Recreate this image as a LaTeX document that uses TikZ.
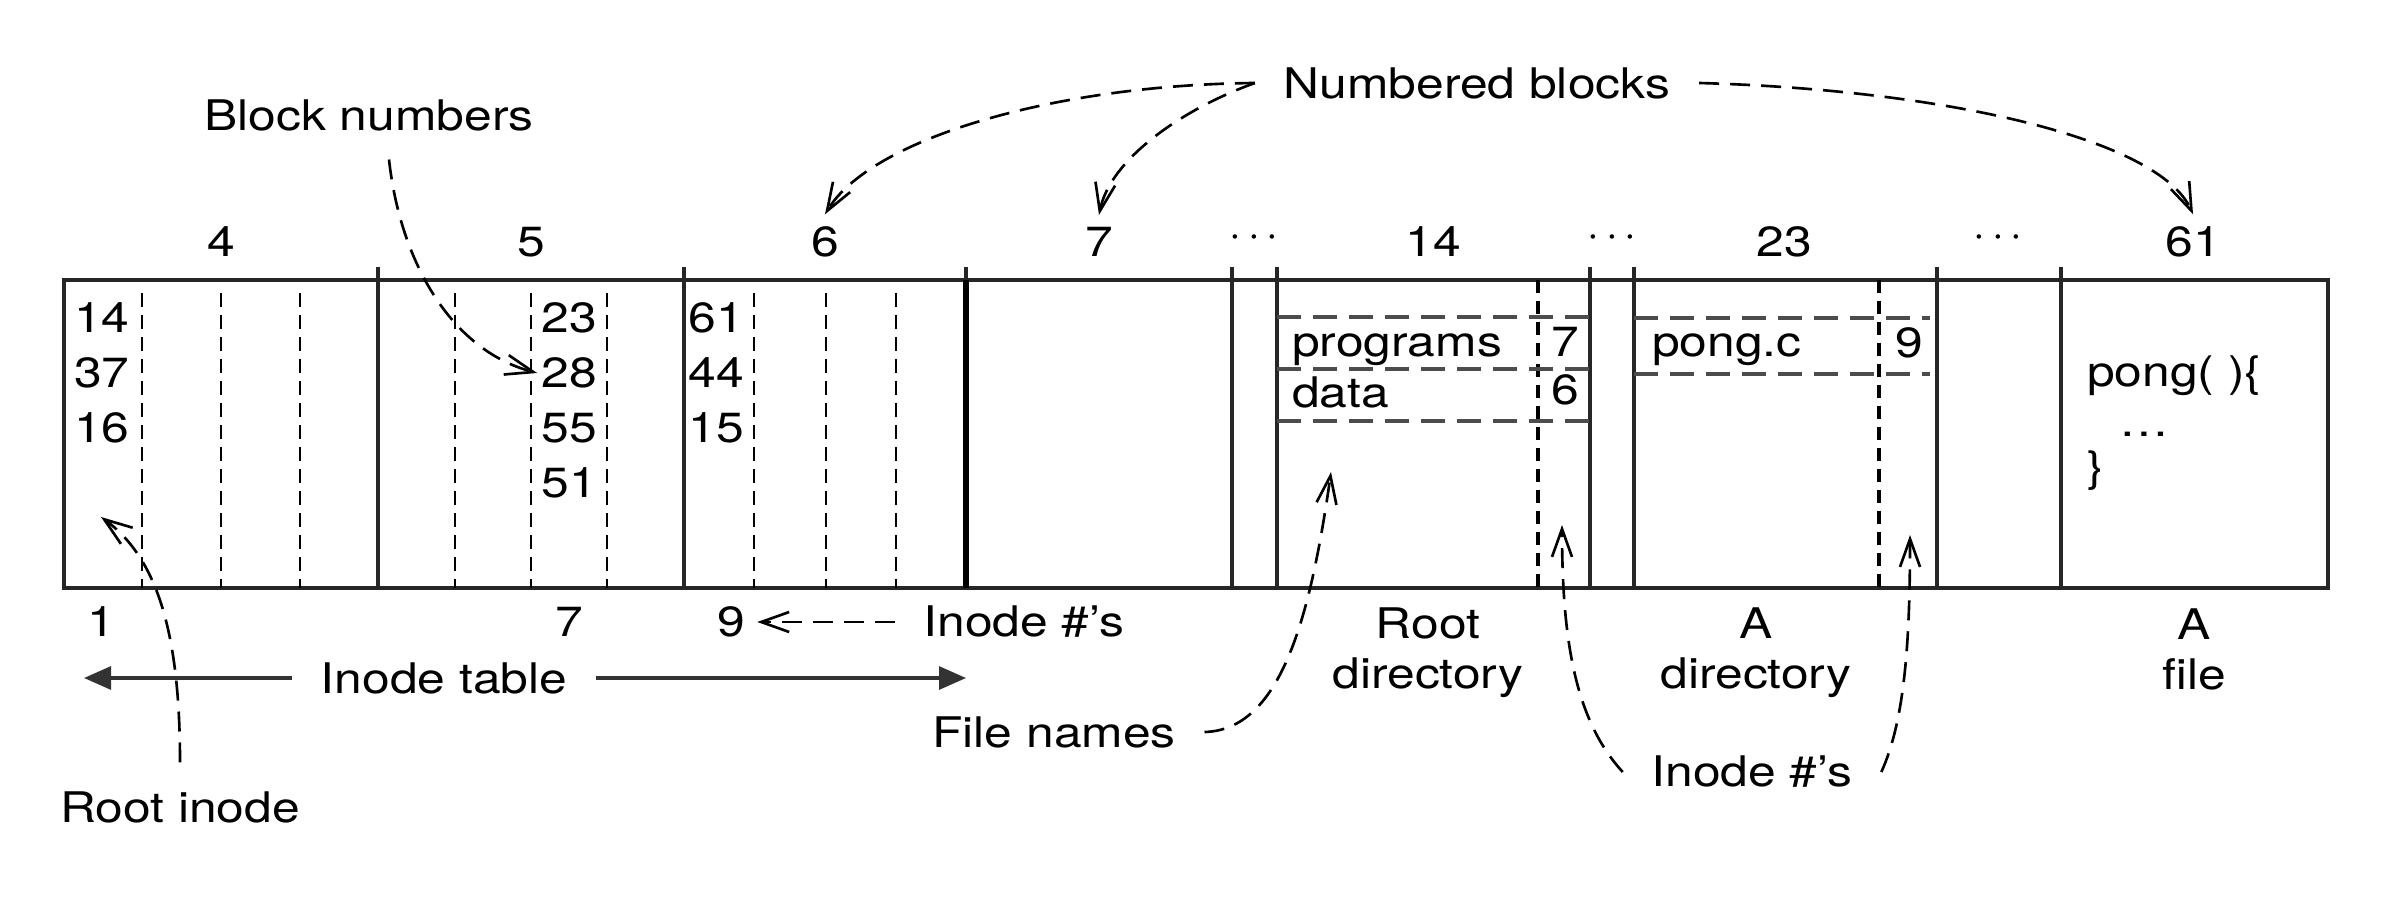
\documentclass[tikz,border=0pt]{standalone}
\usepackage{fontspec}
\setmainfont[FakeStretch=1.18]{TeX Gyre Heros}
\usetikzlibrary{positioning,arrows.meta}

\tikzset{
  lbl/.style={inner sep=8pt},
  num/.style={inner sep=1pt},
  wall/.style={line width=0.9pt, draw=black!85},
  slot/.style={line width=0.7pt, dash pattern=on 1.4mm off 0.8mm},
  dirsep/.style={line width=1.3pt, dash pattern=on 1.3mm off 0.8mm},
  entry/.style={line width=1pt, draw=black!70, dash pattern=on 2.4mm off 1.2mm},
  ptr/.style={-{Straight Barb[length=2.8mm,width=2mm]}, line width=0.75pt, dash pattern=on 2mm off 1.1mm},
  span/.style={-{Triangle[length=2.7mm,width=2.3mm]}, line width=0.9pt, draw=black!80},
}

\begin{document}
\begin{tikzpicture}[x=0.1mm, y=-0.1mm, node distance=5.5mm, font=\fontsize{12}{14.2}\selectfont]
  \useasboundingbox (0,0) rectangle (2392,918);

  % Disk blocks
  \draw[wall] (64,280) rectangle (2328,588);
  \foreach \x in {378,684,966,1232,1277,1590,1634,1937,2061}
    \draw[wall] (\x,267) -- (\x,588);
  \draw[line width=1.7pt] (966,280) -- (966,588);
  \foreach \x in {142,221,300,455,531,607,754,826,896}
    \draw[slot] (\x,293) -- (\x,588);
  \draw[dirsep] (1538,280) -- (1538,588);
  \draw[dirsep] (1879,280) -- (1879,588);
  \foreach \y in {317,369,421}
    \draw[entry] (1277,\y) -- (1590,\y);
  \foreach \y in {318,374}
    \draw[entry] (1634,\y) -- (1930,\y);

  % Nodes
  \node (b4) at (221,242) {4};
  \node (b5) at (531,242) {5};
  \node (b6) at (825,242) {6};
  \node (b7) at (1099,242) {7};
  \node (d1) at (1254,238) {$\cdots$};
  \node (b14) at (1433,242) {14};
  \node (d2) at (1612,238) {$\cdots$};
  \node (b23) at (1784,242) {23};
  \node (d3) at (1998,238) {$\cdots$};
  \node (b61) at (2193,242) {61};
  \node (blocknums) [lbl] at (369,115) {Block numbers};
  \node (numbered) [lbl] at (1477,83) {Numbered blocks};

  \node (n14) [num] at (102,318) {14};
  \node (n37) [num, below of=n14] {37};
  \node (n16) [num, below of=n37] {16};
  \node (n23) [num] at (569,318) {23};
  \node (n28) [num, below of=n23] {28};
  \node (n55) [num, below of=n28] {55};
  \node (n51) [num, below of=n55] {51};
  \node (n61) [num] at (716,318) {61};
  \node (n44) [num, below of=n61] {44};
  \node (n15) [num, below of=n44] {15};

  \node (progs) [num, anchor=base west] at (1288,357) {programs};
  \node (data) [num, anchor=base west] at (1288,408) {data};
  \node (ino7) [num, anchor=base] at (1565,357) {7};
  \node (ino6) [num, anchor=base] at (1565,405) {6};
  \node (pongc) [num, anchor=base west] at (1648,357) {pong.c};
  \node (ino9) [num, anchor=base] at (1909,358) {9};
  \node (code1) [num, anchor=base west] at (2083,387) {pong( )\{};
  \node (code2) [num, anchor=base west] at (2115,437) {\ldots};
  \node (code3) [num, anchor=base west] at (2083,482) {\}};

  \node (i1) at (101,622) {1};
  \node (i7) at (569,622) {7};
  \node (i9) at (731,622) {9};
  \node (inodes) [lbl] at (1024,622) {Inode \#'s};
  \node (itable) [lbl] at (444,678) {Inode table};
  \node (fnames) [lbl] at (1054,732) {File names};
  \node (rootinode) [lbl] at (180,807) {Root inode};
  \node (rootdir) [align=center] at (1428,653) {Root\\directory};
  \node (adir) [align=center] at (1756,653) {A\\directory};
  \node (afile) [align=center] at (2194,649) {A\\file};
  \node (dirinodes) [lbl] at (1752,772) {Inode \#'s};

  \coordinate (itleft) at (84,678);
  \coordinate (itright) at (966,678);
  \coordinate (rootslot) at (101,517);
  \coordinate (fnslot) at (1331,472);
  \coordinate (rdslot) at (1562,525);
  \coordinate (adslot) at (1910,535);

  % Arrows
  \draw[ptr] ([xshift=2mm]blocknums.south) .. controls (400,260) and (450,350) .. (n28.west);
  \draw[ptr] (numbered.west) .. controls (1050,85) and (870,140) .. (b6.north);
  \draw[ptr] (numbered.west) .. controls (1180,110) and (1110,160) .. (b7.north);
  \draw[ptr] (numbered.east) .. controls (1950,90) and (2160,140) .. (b61.north);
  \draw[ptr] (inodes.west) -- (i9.east);
  \draw[span] (itable.west) -- (itleft);
  \draw[span] (itable.east) -- (itright);
  \draw[ptr] (rootinode.north) .. controls (180,640) and (160,560) .. (rootslot);
  \draw[ptr] (fnames.east) .. controls (1280,730) and (1310,620) .. (fnslot);
  \draw[ptr] (dirinodes.west) .. controls (1575,720) and (1562,640) .. (rdslot);
  \draw[ptr] (dirinodes.east) .. controls (1905,720) and (1910,640) .. (adslot);
\end{tikzpicture}
\end{document}
